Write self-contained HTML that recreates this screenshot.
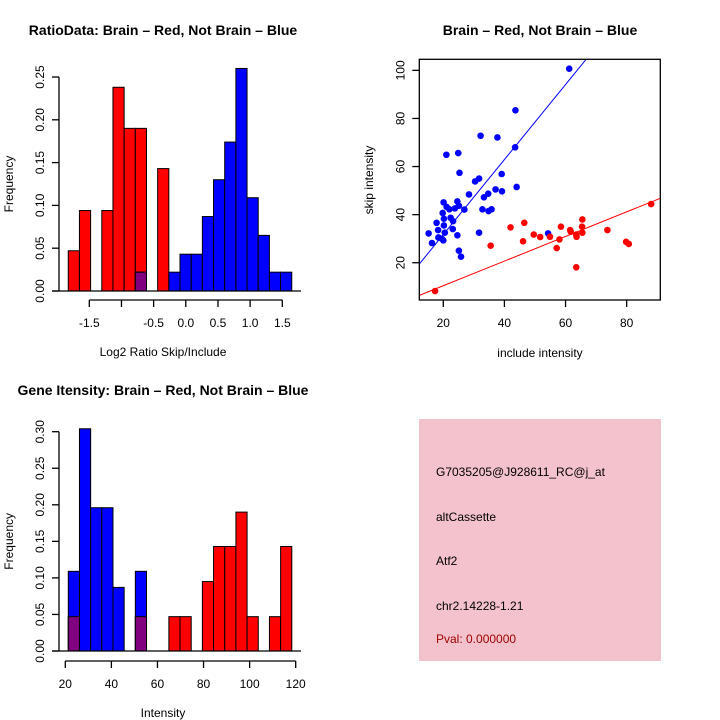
<!DOCTYPE html>
<html><head><meta charset="utf-8">
<style>
html,body{margin:0;padding:0;background:#fff;}
svg{display:block;font-family:"Liberation Sans",sans-serif;}
</style></head>
<body>
<svg id="chart" width="720" height="720" viewBox="0 0 720 720" xmlns="http://www.w3.org/2000/svg">
<rect x="0" y="0" width="720" height="720" fill="#fff"/>
<rect x="419" y="419" width="242" height="242" fill="#f3c2cd"/>
<g font-size="12" fill="#000">
<text x="436" y="476">G7035205@J928611_RC@j_at</text>
<text x="436" y="521">altCassette</text>
<text x="436" y="565">Atf2</text>
<text x="436" y="610">chr2.14228-1.21</text>
<text x="436" y="643" fill="#a00000">Pval: 0.000000</text>
</g>
</svg>
<script>
// ---- Ratio histogram data ----
const ratioBinStart = -1.827;
const ratioBinWidth = 0.1737;
const ratioRed  = [0.047,0.094,0,0.094,0.238,0.190,0.190,0,0.143,0,0,0,0,0,0,0,0,0,0,0];
const ratioBlue = [0,0,0,0,0,0,0.022,0,0,0.022,0.043,0.043,0.087,0.130,0.174,0.260,0.109,0.065,0.022,0.022];
const ratioXTicks = [-1.5,-1.0,-0.5,0.0,0.5,1.0,1.5];
const ratioXLabels = ["-1.5","","-0.5","0.0","0.5","1.0","1.5"];
const ratioYTicks = [0,0.05,0.10,0.15,0.20,0.25];
const ratioYLabels = ["0.00","0.05","0.10","0.15","0.20","0.25"];
// ---- Intensity histogram data ----
const intBinStart = 21.3;
const intBinWidth = 4.85;
const intRed  = [0.047,0,0,0,0,0,0.047,0,0,0.047,0.047,0,0.095,0.143,0.143,0.190,0.047,0,0.047,0.143];
const intBlue = [0.109,0.304,0.196,0.196,0.087,0,0.109,0,0,0,0,0,0,0,0,0,0,0,0,0];
const intXTicks = [20,40,60,80,100,120];
const intYTicks = [0,0.05,0.10,0.15,0.20,0.25,0.30];
const intYLabels = ["0.00","0.05","0.10","0.15","0.20","0.25","0.30"];
// ---- Scatter data ----
const blueX = [61.2,43.6,32.2,37.7,43.5,21,24.9,25.3,39.1,31.7,30.4,44,37.1,39.2,28.4,34.7,33.3,20.1,24.6,25.1,21.1,22,23.8,26.9,32.8,34.8,35.8,19.8,22.4,20.2,23.2,17.8,20.2,18.3,23.1,20.5,15.2,31.7,24.6,18.4,19.5,20,16.3,25.1,25.8,54.3];
const blueY = [100.7,83.4,72.8,72.1,68,64.9,65.6,57.4,56.9,55,53.8,51.5,50.5,49.7,48.4,48.7,47.2,45.1,45.5,43.7,43.2,42.2,42.6,42.1,42.2,41.5,42.2,40.7,38.7,38.3,37.3,36.6,35.5,33.6,34,32.5,32.2,32.5,31.4,30.5,30,29.3,28.2,25,22.5,32.2];
const redX = [17.3,88,35.5,42,46.5,46.1,49.6,51.7,54.9,57.1,58,58.5,61.5,61.7,63.5,63.6,63.5,65.5,65.4,65.5,73.7,79.8,80.7];
const redY = [8.2,44.4,27.1,34.7,36.6,28.9,31.7,30.7,30.8,26.1,29.7,35,33.6,32.9,31.7,30.8,18.1,38,35,32.5,33.6,28.7,27.8];
const blueFit = [0.5,1.56];   // intercept, slope
const redFit  = [0.2,0.512];
const scXTicks = [20,40,60,80];
const scYTicks = [20,40,60,80,100];

const NS="http://www.w3.org/2000/svg";
const svg=document.getElementById('chart');
function mk(tag,attrs,parent){const e=document.createElementNS(NS,tag);for(const k in attrs)e.setAttribute(k,attrs[k]);(parent||svg).appendChild(e);return e;}
function txt(s,x,y,size,anchor,rot,weight,parent){const t=mk('text',{x:x,y:y,'font-size':size,'text-anchor':anchor||'middle'},parent);if(rot)t.setAttribute('transform','rotate(-90 '+x+' '+y+')');if(weight)t.setAttribute('font-weight',weight);t.textContent=s;return t;}

function histogram(opt){
  const g=mk('g',{});
  
  
  const sx=v=>opt.x0+(v-opt.xa)*opt.xs;
  const sy=v=>opt.base-v*opt.ys;
  const n=opt.red.length;
  for(let i=0;i<n;i++){
    const a=opt.binStart+i*opt.binWidth, b=a+opt.binWidth;
    const x1=sx(a), x2=sx(b);
    const r=opt.red[i], bl=opt.blue[i];
    if(r>0){const e=mk('rect',{x:x1,y:sy(r),width:x2-x1,height:sy(0)-sy(r),fill:'#ff0000',stroke:'#000','stroke-width':1},g);
      
      }
    if(bl>0){const e=mk('rect',{x:x1,y:sy(bl),width:x2-x1,height:sy(0)-sy(bl),fill:'#0000ff',stroke:'#000','stroke-width':1},g);
      
      }
    const m=Math.min(r,bl);
    if(m>0){const e=mk('rect',{x:x1,y:sy(m),width:x2-x1,height:sy(0)-sy(m),fill:'#800080',stroke:'#000','stroke-width':1},g);
      
      }
  }
  // baseline
  mk('line',{x1:52,y1:opt.base,x2:301,y2:opt.base,stroke:'#000','stroke-width':1.3},g);
  // y axis
  const ya=mk('g',{},g);
  
  
  const yt=opt.yTicks;
  mk('line',{x1:59,y1:sy(yt[0]),x2:59,y2:sy(yt[yt.length-1]),stroke:'#000','stroke-width':1.3},ya);
  yt.forEach((v,i)=>{mk('line',{x1:52,y1:sy(v),x2:59,y2:sy(v),stroke:'#000','stroke-width':1.3},ya);
    txt(opt.yLabels[i],44,sy(v),12,'middle',true,null,ya);});
  // x axis
  const xa=mk('g',{},g);
  
  
  const xt=opt.xTicks;
  mk('line',{x1:sx(xt[0]),y1:opt.axisY,x2:sx(xt[xt.length-1]),y2:opt.axisY,stroke:'#000','stroke-width':1.3},xa);
  xt.forEach((v,i)=>{mk('line',{x1:sx(v),y1:opt.axisY,x2:sx(v),y2:opt.axisY+7,stroke:'#000','stroke-width':1.3},xa);
    txt(opt.xLabels[i],sx(v),opt.axisY+27,12,'middle',false,null,xa);});
  const tt=txt(opt.xTitle,163,opt.axisY+56,12,'middle',false,null,g);
  
  
  const yy=txt('Frequency',13,(opt.base+sy(yt[yt.length-1]))/2,12,'middle',true,null,g);
  
  
  const ti=txt(opt.title,163,opt.titleY,14,'middle',false,'bold',g);
  
  
}

histogram({name:'ratio-histogram',red:ratioRed,blue:ratioBlue,binStart:ratioBinStart,binWidth:ratioBinWidth,
  xa:-1.5,x0:89.3,xs:64.33,base:291,ys:856,axisY:300,
  xTicks:ratioXTicks,xLabels:ratioXLabels,yTicks:ratioYTicks,yLabels:ratioYLabels,
  xTitle:'Log2 Ratio Skip/Include',title:'RatioData: Brain \u2013 Red, Not Brain \u2013 Blue',titleY:35});

histogram({name:'intensity-histogram',red:intRed,blue:intBlue,binStart:intBinStart,binWidth:intBinWidth,
  xa:20,x0:65.3,xs:2.304,base:651,ys:731,axisY:661,
  xTicks:intXTicks,xLabels:intXTicks.map(String),yTicks:intYTicks,yLabels:intYLabels,
  xTitle:'Intensity',title:'Gene Itensity: Brain \u2013 Red, Not Brain \u2013 Blue',titleY:395});

// ---- Scatter ----
(function(){
  const g=mk('g',{});
  
  
  const L=419.3,R=660.3,T=59.3,B=300;
  const xmin=12.15,xmax=91.0,ymin=4.5,ymax=104.6;
  const sx=v=>L+(v-xmin)/(xmax-xmin)*(R-L);
  const sy=v=>B-(v-ymin)/(ymax-ymin)*(B-T);
  const defs=mk('clipPath',{id:'clip'},g);
  mk('rect',{x:L,y:T,width:R-L,height:B-T},defs);
  const pts=mk('g',{'clip-path':'url(#clip)'},g);
  function fit(f,col,name){const l=mk('line',{x1:sx(xmin),y1:sy(f[0]+f[1]*xmin),x2:sx(xmax),y2:sy(f[0]+f[1]*xmax),stroke:col,'stroke-width':1},pts);
    
    }
  fit(blueFit,'#0000ff','blue-fit-line');
  fit(redFit,'#ff0000','red-fit-line');
  blueX.forEach((x,i)=>{const c=mk('circle',{cx:sx(x),cy:sy(blueY[i]),r:3.3,fill:'#0000ff'},pts);
    
    });
  redX.forEach((x,i)=>{const c=mk('circle',{cx:sx(x),cy:sy(redY[i]),r:3.3,fill:'#ff0000'},pts);
    
    });
  const box=mk('rect',{x:L,y:T,width:R-L,height:B-T,fill:'none',stroke:'#000','stroke-width':1.3},g);
  
  
  scXTicks.forEach(v=>{mk('line',{x1:sx(v),y1:B,x2:sx(v),y2:B+7,stroke:'#000','stroke-width':1.3},g);txt(String(v),sx(v),B+27,12,'middle',false,null,g);});
  scYTicks.forEach(v=>{mk('line',{x1:L-7,y1:sy(v),x2:L,y2:sy(v),stroke:'#000','stroke-width':1.3},g);txt(String(v),L-15,sy(v),12,'middle',true,null,g);});
  const xt=txt('include intensity',540,357,12,'middle',false,null,g);
  
  
  const yt=txt('skip intensity',373,180,12,'middle',true,null,g);
  
  
  const ti=txt('Brain \u2013 Red, Not Brain \u2013 Blue',540,35,14,'middle',false,'bold',g);
  
  
})();
</script>
</body></html>
